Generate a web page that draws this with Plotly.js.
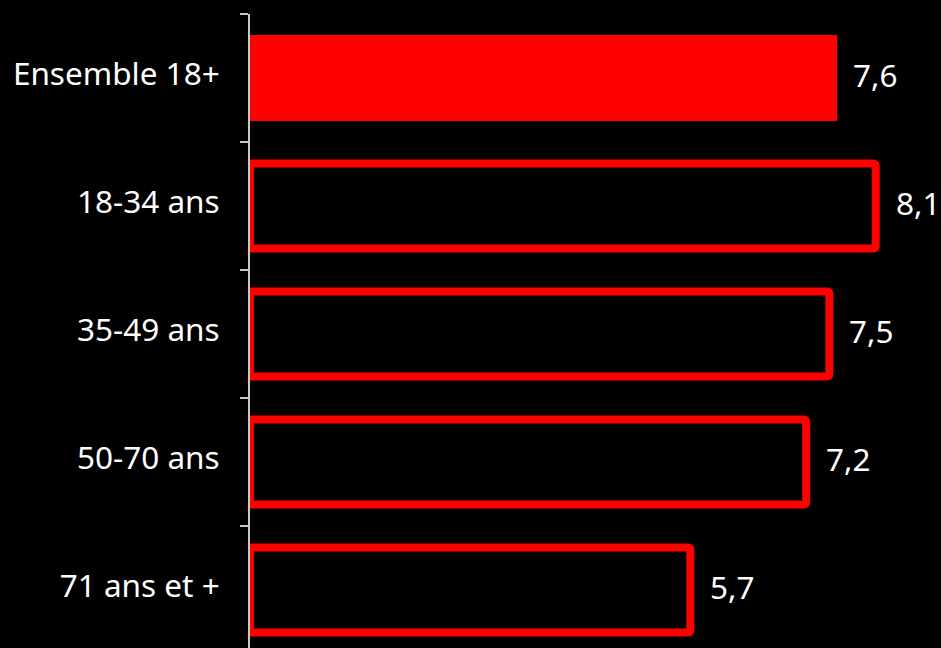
<!DOCTYPE html>
<html>
<head>
<meta charset="utf-8">
<script src="https://cdn.plot.ly/plotly-3.0.1.min.js"></script>
<style>
html,body{margin:0;padding:0;background:#000;overflow:hidden;}
#chart{width:941px;height:648px;}
</style>
</head>
<body>
<div id="chart"></div>
<script>
const categories = ["Ensemble 18+", "18-34 ans", "35-49 ans", "50-70 ans", "71 ans et +"];
const values = [7.6, 8.1, 7.5, 7.2, 5.7];
const filled = [true, false, false, false, false];

const RED = "#ff0000";
const FONT = "Noto Sans, sans-serif";
const fmt = v => v.toFixed(1).replace(".", ",");

const fillCats = categories.filter((c, i) => filled[i]);
const fillVals = values.filter((v, i) => filled[i]);
const outCats = categories.filter((c, i) => !filled[i]);
const outVals = values.filter((v, i) => !filled[i]);

const traces = [
  {
    type: "bar", orientation: "h", y: fillCats, x: fillVals, width: 0.67,
    marker: {color: RED, line: {width: 0}}, hoverinfo: "none"
  },
  {
    type: "bar", orientation: "h", y: outCats, x: outVals, width: 0.665,
    marker: {color: "#000", line: {color: RED, width: 8}, cornerradius: 2}, hoverinfo: "none"
  }
];

const annotations = categories.map((c, i) => ({
  x: values[i], y: c, xref: "x", yref: "y",
  text: fmt(values[i]), showarrow: false,
  xanchor: "left", yanchor: "middle",
  xshift: filled[i] ? 14 : 18, yshift: 4,
  font: {color: "#fff", size: 31.5, family: FONT}
}));

const layout = {
  width: 941, height: 648,
  paper_bgcolor: "#000", plot_bgcolor: "#000",
  margin: {l: 250, r: 0, t: 14, b: 0},
  showlegend: false, barmode: "overlay",
  font: {family: FONT, color: "#fff", size: 31.5},
  xaxis: {range: [0, 8.945], visible: false, fixedrange: true},
  yaxis: {
    type: "category", categoryorder: "array", categoryarray: categories,
    range: [4.453, -0.5],
    showline: true, linecolor: "#c8c8c8", linewidth: 2,
    ticks: "outside", tickson: "boundaries", ticklen: 8, tickwidth: 2, tickcolor: "#c8c8c8",
    ticklabelstandoff: 22, ticklabelshift: 4,
    showgrid: false, zeroline: false,
    tickfont: {color: "#fff", size: 31.5, family: FONT}
  },
  annotations: annotations
};

Plotly.newPlot("chart", traces, layout, {displayModeBar: false, staticPlot: true});
</script>
</body>
</html>
